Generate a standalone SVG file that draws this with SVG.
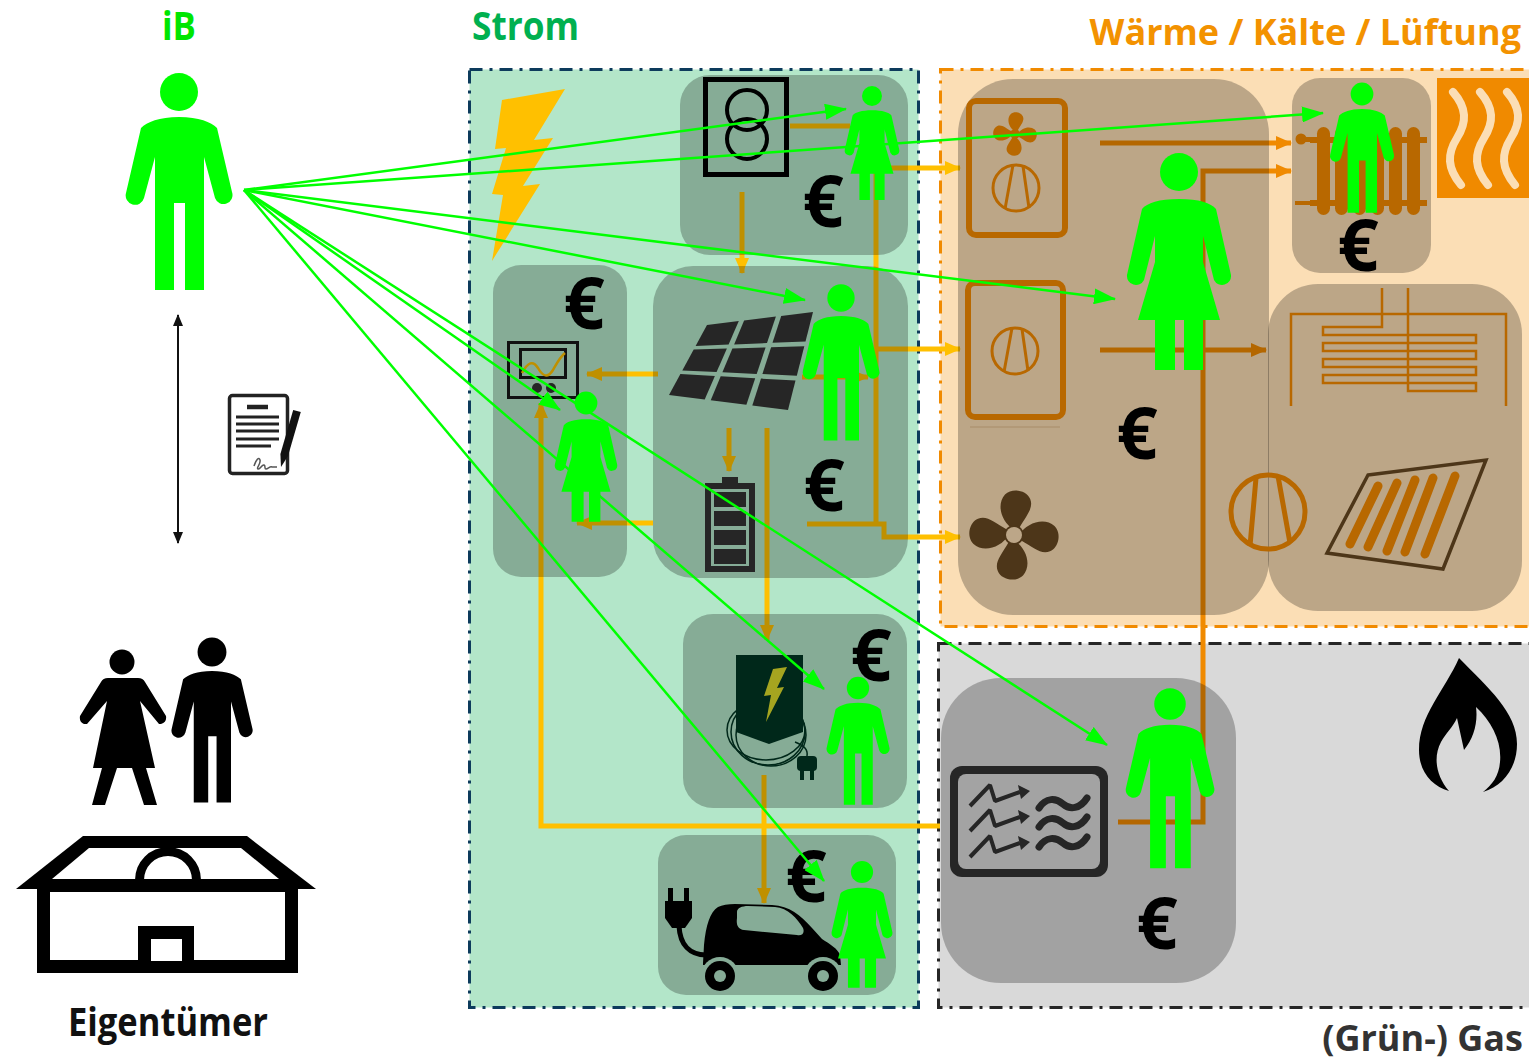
<svg xmlns="http://www.w3.org/2000/svg" xmlns:xlink="http://www.w3.org/1999/xlink" width="1529" height="1061" viewBox="0 0 1529 1061">
<style>
.g{fill:#00ff00}
.k{fill:#000}
.nd{fill:#000;fill-opacity:.25}
.gl{stroke:#00ff00;stroke-width:2.5;fill:none;marker-end:url(#ag)}
.ol{stroke:#ffc000;stroke-width:5;fill:none}
.hl{stroke:#f08a00;stroke-width:5;fill:none}
.br{stroke:#b86800;fill:none}
.eu{font-family:"Open Sans","Liberation Sans",sans-serif;font-weight:700;font-size:72px;text-anchor:middle;fill:#000}
.hd{font-family:"Open Sans","Liberation Sans",sans-serif;font-weight:700;font-size:39px}
.hs{font-family:"Open Sans","Liberation Sans",sans-serif;font-weight:700;font-size:36px;text-anchor:end}
</style>
<defs>
  <marker id="ag" markerUnits="userSpaceOnUse" markerWidth="22" markerHeight="16" refX="21" refY="8" orient="auto"><path d="M0,0 L22,8 L0,16 Z" fill="#00ff00"/></marker>
  <marker id="ay" markerUnits="userSpaceOnUse" markerWidth="16" markerHeight="14" refX="15" refY="7" orient="auto"><path d="M0,0 L16,7 L0,14 Z" fill="#ffc000"/></marker>
  <marker id="ao" markerUnits="userSpaceOnUse" markerWidth="16" markerHeight="14" refX="15" refY="7" orient="auto"><path d="M0,0 L16,7 L0,14 Z" fill="#f08a00"/></marker>
  <marker id="ak" markerUnits="userSpaceOnUse" markerWidth="12" markerHeight="10" refX="11" refY="5" orient="auto-start-reverse"><path d="M0,0 L12,5 L0,10 Z" fill="#111"/></marker>
  <!-- pictogram figures, head centre at origin -->
  <g id="man"><circle r="19"/><path d="M0,25 C20,25 32,30 38,36 L53,100 A9,9 0 0 1 36,106 L25,65 L25,198 L6,198 L6,111 L-5,111 L-5,198 L-24,198 L-24,65 L-35,106 A9,9 0 0 1 -53,101 L-38,36 C-32,30 -20,25 0,25 Z"/></g>
  <g id="woman"><circle r="19"/><path d="M0,27 C20,27 32,31 37,37 L52,103 A9,9 0 0 1 35,108 L24,64 L24,90 L41,148 L24,148 L24,198 L5,198 L5,148 L-4,148 L-4,198 L-24,198 L-24,148 L-41,148 L-24,90 L-24,64 L-35,108 A9,9 0 0 1 -52,103 L-37,37 C-32,31 -20,27 0,27 Z"/></g>
  <!-- four-blade fan, radius 50 -->
  <g id="fan">
    <path id="blade" d="M0,-6 C-14,-14 -20,-34 -10,-45 C-2,-53 14,-50 18,-40 C22,-30 14,-22 6,-8 Z"/>
    <use xlink:href="#blade" transform="rotate(90)"/>
    <use xlink:href="#blade" transform="rotate(180)"/>
    <use xlink:href="#blade" transform="rotate(270)"/>
    <circle r="11"/>
  </g>
  <g id="compressor" fill="none" stroke="#b86800" stroke-width="3">
    <circle r="23"/>
    <path d="M-3,-23 L-11,21 M7,-22 L13,20"/>
  </g>
</defs>

<rect width="1529" height="1061" fill="#fff"/>

<!-- sector areas -->
<g id="sectors">
  <rect x="469.5" y="69.5" width="449" height="938" fill="#b3e6c9" stroke="#0d3b5c" stroke-width="3" stroke-dasharray="13 7 3 7"/>
  <rect x="940.5" y="69.5" width="600" height="557" fill="#fbdeb5" stroke="#f08a00" stroke-width="3" stroke-dasharray="13 7 3 7"/>
  <rect x="938.5" y="643.5" width="600" height="364" fill="#d9d9d9" stroke="#262626" stroke-width="3" stroke-dasharray="13 7 3 7"/>
</g>

<!-- energy flows -->
<g id="flows">
  <path class="ol" d="M790,126 H850"/>
  <path class="ol" d="M876,168 H960" marker-end="url(#ay)"/>
  <path class="ol" d="M876,168 V524"/>
  <path class="ol" d="M876,349 H960" marker-end="url(#ay)"/>
  <path class="ol" d="M807,524 H884 V537 H960" marker-end="url(#ay)"/>
  <path class="ol" d="M742,192 V273" marker-end="url(#ay)"/>
  <path class="ol" d="M802,377 H868" marker-end="url(#ay)"/>
  <path class="ol" d="M658,374 H587" marker-end="url(#ay)"/>
  <path class="ol" d="M653,523 H577" marker-end="url(#ay)"/>
  <path class="ol" d="M940,826 H541 V403" marker-end="url(#ay)"/>
  <path class="ol" d="M767,428 V640" marker-end="url(#ay)"/>
  <path class="ol" d="M729,428 V471" marker-end="url(#ay)"/>
  <path class="ol" d="M764,775 V903" marker-end="url(#ay)"/>
  <path class="hl" d="M1100,143 H1291" marker-end="url(#ao)"/>
  <path class="hl" d="M1118,822 H1203 V171 H1291" marker-end="url(#ao)"/>
  <path class="hl" d="M1100,350 H1266" marker-end="url(#ao)"/>
</g>

<!-- nodes -->
<g id="node-transformer"><rect class="nd" x="680" y="75" width="228" height="180" rx="30"/>
  <rect x="705.5" y="79.5" width="81" height="95" fill="none" stroke="#000" stroke-width="5"/>
  <circle cx="747" cy="110" r="20" fill="none" stroke="#000" stroke-width="4"/>
  <circle cx="747" cy="139" r="20" fill="none" stroke="#000" stroke-width="4"/>
</g>
<g id="node-meter"><rect class="nd" x="493" y="265" width="134" height="312" rx="28"/>
  <rect x="508.5" y="342.5" width="69" height="55" fill="none" stroke="#111" stroke-width="3"/>
  <rect x="520.5" y="349.5" width="45" height="28" fill="none" stroke="#111" stroke-width="3"/>
  <path d="M522,373 C528,362 533,360 538,368 C543,377 548,378 553,370 C557,363 560,357 565,353" fill="none" stroke="#bf9000" stroke-width="2.5"/>
  <circle cx="537" cy="388" r="5" fill="#262626"/><circle cx="551" cy="388" r="5" fill="#262626"/>
</g>
<g id="node-solar"><rect class="nd" x="653" y="266" width="255" height="312" rx="40"/>
  <g fill="#262626">
    <polygon points="707,325 738.8,321.1 728.6,344.6 695.6,346"/>
    <polygon points="744.1,320.5 775.9,316.6 767,343 734.1,344.4"/>
    <polygon points="781.2,315.9 813,312 805.5,341.4 772.5,342.8"/>
    <polygon points="693.7,349.5 726.9,348.5 716.6,372.1 682.3,370.5"/>
    <polygon points="732.4,348.4 765.6,347.4 756.7,373.9 722.4,372.3"/>
    <polygon points="771.1,347.3 804.3,346.3 796.8,375.7 762.4,374.1"/>
    <polygon points="680.4,374 714.9,376 704.7,399.5 669,395"/>
    <polygon points="720.7,376.3 755.2,378.3 746.4,404.8 710.7,400.3"/>
    <polygon points="761,378.6 795.5,380.6 788,410 752.3,405.5"/>
    <rect x="705" y="483" width="50" height="89"/>
    <rect x="722" y="477" width="16" height="7"/>
  </g>
  <rect x="711" y="489" width="38" height="77" fill="#86ac97"/>
  <g fill="#262626">
    <rect x="714" y="492" width="32" height="15"/><rect x="714" y="511" width="32" height="15"/>
    <rect x="714" y="530" width="32" height="15"/><rect x="714" y="549" width="32" height="15"/>
  </g>
</g>
<g id="node-charger"><rect class="nd" x="683" y="614" width="224" height="194" rx="30"/>
  <g fill="none" stroke="#00281a" stroke-width="1.5">
    <ellipse cx="768" cy="732" rx="37" ry="33"/>
    <ellipse cx="771" cy="735" rx="35" ry="31"/>
    <ellipse cx="766" cy="730" rx="39" ry="30"/>
    <path d="M795,742 C805,746 808,750 807,756"/>
  </g>
  <path d="M736,655 H803 V732 L769,744 L736,732 Z" fill="#00281a"/>
  <polygon points="773,669 787,667 777,688 784,687 766,722 771,695 764,696" fill="#a5a520"/>
  <rect x="797" y="756" width="20" height="15" rx="4" fill="#00281a"/>
  <rect x="800" y="770" width="4" height="10" fill="#00281a"/><rect x="810" y="770" width="4" height="10" fill="#00281a"/>
</g>
<g id="node-car"><rect class="nd" x="658" y="835" width="238" height="160" rx="28"/>
  <path d="M703,963 L704,945 C706,925 710,912 718,907 C722,905 728,904 735,904 L772,905 C790,906 800,915 812,928 L822,939 C830,944 838,949 840,955 L841,965 L703,965 Z" fill="#000"/>
  <path d="M737,912 C737,908 742,906 748,906 L775,907 C788,908 797,918 803,928 C805,933 802,936 797,935 L744,930 C738,929 736,925 737,918 Z" fill="#86ac97"/>
  <circle cx="720" cy="976" r="19" fill="#86ac97"/><circle cx="823" cy="976" r="19" fill="#86ac97"/>
  <circle cx="720" cy="976" r="15"/><circle cx="823" cy="976" r="15"/>
  <circle cx="720" cy="976" r="6" fill="#86ac97"/><circle cx="823" cy="976" r="6" fill="#86ac97"/>
  <path d="M679,926 C680,945 690,955 706,955" fill="none" stroke="#000" stroke-width="5"/>
  <path d="M665,901 H692 V918 L685,928 H672 L665,918 Z"/>
  <rect x="668" y="888" width="5" height="14"/><rect x="684" y="888" width="5" height="14"/>
</g>

<g id="node-heat-main"><rect class="nd" x="958" y="79" width="311" height="536" rx="55"/>
  <rect class="br" x="969" y="101" width="96" height="134" rx="7" stroke-width="6"/>
  <use xlink:href="#fan" fill="#b86800" transform="translate(1015,134) scale(0.44)"/>
  <use xlink:href="#compressor" transform="translate(1016,188)"/>
  <rect class="br" x="968" y="283" width="95" height="134" rx="7" stroke-width="6"/>
  <use xlink:href="#compressor" transform="translate(1015,351)"/>
  <line x1="970" y1="427" x2="1060" y2="427" stroke="#a88c68" stroke-width="1"/>
  <use xlink:href="#fan" fill="#4d3619" transform="translate(1014,535) scale(0.9)"/>
  <circle cx="1014" cy="535" r="8" fill="#bca688"/>
</g>
<g id="node-radiator"><rect class="nd" x="1292" y="78" width="139" height="195" rx="28"/>
  <g fill="#b86800">
    <rect x="1310" y="137" width="117" height="6"/>
    <rect x="1310" y="200" width="117" height="6"/>
    <rect x="1317" y="127" width="13" height="88" rx="6.5"/>
    <rect x="1335" y="127" width="13" height="88" rx="6.5"/>
    <rect x="1353" y="127" width="13" height="88" rx="6.5"/>
    <rect x="1371" y="127" width="13" height="88" rx="6.5"/>
    <rect x="1389" y="127" width="13" height="88" rx="6.5"/>
    <rect x="1407" y="127" width="13" height="88" rx="6.5"/>
    <circle cx="1301" cy="139" r="5.5"/>
    <rect x="1305" y="137" width="10" height="5"/>
    <rect x="1295" y="201" width="22" height="4"/>
  </g>
</g>
<g id="node-heat-sources"><rect class="nd" x="1268" y="284" width="254" height="327" rx="50"/>
  <path class="br" stroke-width="2.5" d="M1291,406 V314 H1506 V406"/>
  <path class="br" stroke-width="2.5" d="M1382,288 V327 H1323 V335 H1476 V343 H1323 V351 H1476 V359 H1323 V367 H1476 V375 H1323 V383 H1476 V391 H1408 V288"/>
  <g class="br" stroke-width="5">
    <circle cx="1268" cy="512" r="37"/>
    <path d="M1256,478 L1250,546 M1278,476 L1290,543"/>
  </g>
  <polygon points="1368,475 1486,460 1443,569 1327,553" fill="none" stroke="#4d3619" stroke-width="3.5"/>
  <path d="M1378,486 L1350,544 M1397,483 L1368,547 M1415,480 L1387,551 M1433,478 L1405,552 M1455,476 L1425,554" stroke="#b86800" stroke-width="9" stroke-linecap="round"/>
</g>
<g id="heat-symbol">
  <rect x="1437" y="78" width="92" height="120" fill="#f08a00"/>
  <g fill="none" stroke="#fbdeb5" stroke-width="8" stroke-linecap="round">
    <path d="M1453,92 C1467,108 1467,122 1457,138 C1447,154 1447,168 1461,185"/>
    <path d="M1480,92 C1494,108 1494,122 1484,138 C1474,154 1474,168 1488,185"/>
    <path d="M1507,92 C1521,108 1521,122 1511,138 C1501,154 1501,168 1515,185"/>
  </g>
</g>

<g id="node-gas"><rect class="nd" x="941" y="678" width="295" height="305" rx="60"/>
  <rect x="950" y="766" width="158" height="111" rx="12" fill="#262626"/>
  <rect x="958" y="774" width="142" height="95" rx="8" fill="#a3a3a3"/>
  <g fill="none" stroke="#262626" stroke-width="4" stroke-linejoin="bevel">
    <polyline points="970,806 990,785 995,801 1020,792"/>
    <polyline points="970,831 990,810 995,826 1020,817"/>
    <polyline points="970,857 990,836 995,852 1020,843"/>
  </g>
  <g fill="#262626">
    <polygon points="1018,785 1030,791 1021,799"/>
    <polygon points="1018,810 1030,816 1021,824"/>
    <polygon points="1018,836 1030,842 1021,850"/>
  </g>
  <g fill="none" stroke="#262626" stroke-width="7" stroke-linecap="round">
    <path d="M1039,808 C1046,797 1056,798 1063,804 C1070,810 1080,809 1087,798"/>
    <path d="M1039,827 C1046,816 1056,817 1063,823 C1070,829 1080,828 1087,817"/>
    <path d="M1039,847 C1046,836 1056,837 1063,843 C1070,849 1080,848 1087,837"/>
  </g>
</g>
<g id="gas-flame">
  <path d="M1459,658 C1445,690 1419,715 1419,750 C1419,772 1432,786 1449,791 C1436,776 1433,757 1441,742 C1446,733 1453,727 1457,718 L1464,750 C1474,738 1478,722 1476,707 C1492,722 1502,742 1500,762 C1499,776 1492,785 1483,792 C1503,786 1517,768 1517,744 C1517,712 1488,688 1459,658 Z" fill="#000"/>
</g>
<g id="strom-bolt">
  <polygon points="502,100 565,89 534,140 553,138 523,186 540,184 492,261 503,195 492,194 506,148 495,149" fill="#ffc000"/>
</g>

<!-- cost markers -->
<g id="costs">
  <text class="eu" x="823" y="227">€</text>
  <text class="eu" x="584" y="329">€</text>
  <text class="eu" x="824" y="511">€</text>
  <text class="eu" x="871" y="681">€</text>
  <text class="eu" x="806" y="902">€</text>
  <text class="eu" x="1137" y="459">€</text>
  <text class="eu" x="1358" y="271">€</text>
  <text class="eu" x="1157" y="949">€</text>
</g>

<!-- operators / users -->
<g id="people">
  <use xlink:href="#man" class="g" transform="translate(179,92)"/>
  <use xlink:href="#woman" class="g" transform="translate(872,96) scale(0.525)"/>
  <use xlink:href="#man" class="g" transform="translate(841,298) scale(0.72)"/>
  <use xlink:href="#woman" class="g" transform="translate(586,403) scale(0.6)"/>
  <use xlink:href="#man" class="g" transform="translate(858,688) scale(0.59)"/>
  <use xlink:href="#woman" class="g" transform="translate(862,872) scale(0.585)"/>
  <use xlink:href="#woman" class="g" transform="translate(1179,172)"/>
  <use xlink:href="#man" class="g" transform="translate(1362,94) scale(0.6)"/>
  <use xlink:href="#man" class="g" transform="translate(1170,704) scale(0.83)"/>
</g>

<!-- owner -->
<g id="owner">
  <circle cx="122" cy="662" r="12.5"/>
  <path d="M108,678 L138,678 Q143,678 145,682 L166,716 Q167,722 161,724 L159,724 L140,701 L155,768 L146,768 L157,805 L144,805 L132,768 L117,768 L105,805 L92,805 L102,768 L93,768 L107,701 L87,724 L84,724 Q79,722 80,716 L101,682 Q103,678 108,678 Z"/>
  <use xlink:href="#man" transform="translate(212,652) scale(0.76)"/>
  <polygon points="16,889 83,836 247,836 316,889"/>
  <polygon points="52,879 89,848 241,848 279,879" fill="#fff"/>
  <path d="M135,880 A33,33 0 0 1 201,880 L192,880 A24,24 0 0 0 144,880 Z"/>
  <rect x="37" y="883" width="261" height="90"/>
  <rect x="50" y="892" width="235" height="68" fill="#fff"/>
  <rect x="138" y="926" width="56" height="36"/>
  <rect x="151" y="939" width="31" height="22" fill="#fff"/>
</g>

<!-- contract between owner and iB -->
<g id="contract">
  <line x1="178" y1="315" x2="178" y2="543" stroke="#111" stroke-width="2" marker-start="url(#ak)" marker-end="url(#ak)"/>
  <rect x="229.5" y="395.5" width="58" height="78" rx="3" fill="#fff" stroke="#222" stroke-width="3.5"/>
  <g stroke="#222" stroke-width="3">
    <line x1="247" y1="407" x2="268" y2="407" stroke-width="4.5"/>
    <line x1="236" y1="417" x2="279" y2="417"/>
    <line x1="236" y1="424" x2="279" y2="424"/>
    <line x1="236" y1="431" x2="279" y2="431"/>
    <line x1="236" y1="439" x2="279" y2="439"/>
    <line x1="236" y1="446" x2="271" y2="446"/>
  </g>
  <path d="M254,466 c2,-6 5,-10 6,-6 c1,4 -4,8 -2,9 c2,1 4,-5 6,-4 c2,1 0,4 2,4 c2,0 4,-3 6,-2 l5,0" fill="none" stroke="#555" stroke-width="1.5"/>
  <polygon points="293.2,409.9 300.8,412.1 288,456.1 281,467 280.4,453.9" fill="#111"/>
</g>

<!-- iB relations -->
<g id="relations">
  <line class="gl" x1="244" y1="190" x2="846" y2="109"/>
  <line class="gl" x1="244" y1="190" x2="1323" y2="113"/>
  <line class="gl" x1="244" y1="190" x2="1115" y2="299"/>
  <line class="gl" x1="244" y1="190" x2="805" y2="300"/>
  <line class="gl" x1="244" y1="190" x2="560" y2="410"/>
  <line class="gl" x1="244" y1="190" x2="1107" y2="745"/>
  <line class="gl" x1="244" y1="190" x2="824" y2="689"/>
  <line class="gl" x1="244" y1="190" x2="824" y2="881"/>
</g>

<!-- labels -->
<g id="labels">
  <text class="hd" x="162" y="40" fill="#00e600" textLength="34" lengthAdjust="spacingAndGlyphs">iB</text>
  <text class="hd" x="472" y="40" fill="#00b050" textLength="107" lengthAdjust="spacingAndGlyphs">Strom</text>
  <text class="hs" x="1521" y="45" fill="#f39200">Wärme / Kälte / Lüftung</text>
  <text class="hd" x="68" y="1036" fill="#111" textLength="200" lengthAdjust="spacingAndGlyphs">Eigentümer</text>
  <text class="hs" x="1523" y="1051" fill="#333">(Grün-) Gas</text>
</g>
</svg>
